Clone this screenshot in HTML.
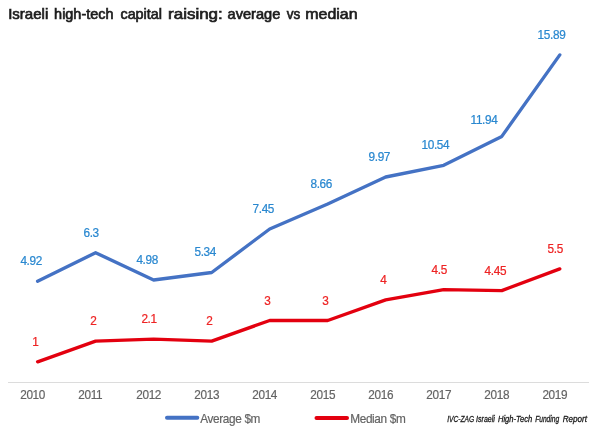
<!DOCTYPE html>
<html><head><meta charset="utf-8"><title>Israeli high-tech capital raising</title>
<style>
html,body{margin:0;padding:0;background:#fff;}
svg{display:block;font-family:"Liberation Sans",sans-serif;}
</style></head><body>
<svg width="600" height="433" viewBox="0 0 600 433">
<rect width="600" height="433" fill="#fff"/>
<text y="19.4" font-size="14.1" fill="#1c1c1c" stroke="#1c1c1c" stroke-width="0.65"><tspan x="8.15" textLength="40.18" lengthAdjust="spacingAndGlyphs">Israeli</tspan> <tspan x="54.1" textLength="59.43" lengthAdjust="spacingAndGlyphs">high-tech</tspan> <tspan x="120.45" textLength="41.57" lengthAdjust="spacingAndGlyphs">capital</tspan> <tspan x="168.1" textLength="54.67" lengthAdjust="spacingAndGlyphs">raising:</tspan> <tspan x="227.6" textLength="52.71" lengthAdjust="spacingAndGlyphs">average</tspan> <tspan x="286.75" textLength="13.5" lengthAdjust="spacingAndGlyphs">vs</tspan> <tspan x="305.25" textLength="52.29" lengthAdjust="spacingAndGlyphs">median</tspan></text>
<line x1="8" y1="382.5" x2="589" y2="382.5" stroke="#dcdcdc" stroke-width="1"/>
<polyline points="37.6,281.2 95.6,252.7 153.6,280.0 211.7,272.5 269.7,229.0 327.7,204.0 385.7,177.0 443.7,165.3 501.8,136.4 559.8,54.9" fill="none" stroke="#4472c4" stroke-width="3.35" stroke-linecap="round" stroke-linejoin="round"/>
<polyline points="37.6,361.8 95.6,341.1 153.6,339.1 211.7,341.1 269.7,320.5 327.7,320.5 385.7,299.9 443.7,289.6 501.8,290.6 559.8,268.9" fill="none" stroke="#e3000f" stroke-width="3.35" stroke-linecap="round" stroke-linejoin="round"/>
<g font-size="12.5" letter-spacing="-0.37" transform="scale(0.944,1)" fill="#2a88d0" stroke="#2a88d0" stroke-width="0.25"><text x="21.6" y="265.2">4.92</text><text x="88.4" y="236.7">6.3</text><text x="144.5" y="264.0">4.98</text><text x="206.0" y="256.5">5.34</text><text x="267.5" y="213.0">7.45</text><text x="328.9" y="188.0">8.66</text><text x="390.4" y="161.0">9.97</text><text x="446.5" y="149.3">10.54</text><text x="498.5" y="124">11.94</text><text x="569.5" y="38.9">15.89</text></g>
<g font-size="12.5" letter-spacing="-0.37" transform="scale(0.944,1)" fill="#ee2424" stroke="#ee2424" stroke-width="0.25"><text x="34.1" y="346.1">1</text><text x="95.6" y="325.4">2</text><text x="149.8" y="323.4">2.1</text><text x="218.5" y="325.4">2</text><text x="280.0" y="304.8">3</text><text x="341.4" y="304.8">3</text><text x="402.9" y="284.2">4</text><text x="457.1" y="273.9">4.5</text><text x="513.3" y="274.9">4.45</text><text x="580.1" y="253.2">5.5</text></g>
<g font-size="12.5" letter-spacing="-0.37" transform="scale(0.944,1)" fill="#646464" stroke="#646464" stroke-width="0.2"><text x="21.4" y="399.5">2010</text><text x="82.9" y="399.5">2011</text><text x="144.3" y="399.5">2012</text><text x="205.8" y="399.5">2013</text><text x="267.2" y="399.5">2014</text><text x="328.7" y="399.5">2015</text><text x="390.2" y="399.5">2016</text><text x="451.6" y="399.5">2017</text><text x="513.1" y="399.5">2018</text><text x="574.6" y="399.5">2019</text></g>
<line x1="167" y1="417.8" x2="197.3" y2="417.8" stroke="#4472c4" stroke-width="4" stroke-linecap="round"/>
<line x1="316.5" y1="417.9" x2="347" y2="417.9" stroke="#e3000f" stroke-width="4" stroke-linecap="round"/>
<g font-size="12.5" letter-spacing="-0.37" transform="scale(0.944,1)" fill="#646464" stroke="#646464" stroke-width="0.2"><text x="212.1" y="423.3">Average $m</text><text x="371.0" y="423.3">Median $m</text></g>
<text y="422.3" font-size="8.6" font-style="italic" fill="#1a1a1a" stroke="#1a1a1a" stroke-width="0.3"><tspan x="447.15" textLength="27.05" lengthAdjust="spacingAndGlyphs">IVC-ZAG</tspan> <tspan x="476.1" textLength="18.8" lengthAdjust="spacingAndGlyphs">Israeli</tspan> <tspan x="497.95" textLength="34.31" lengthAdjust="spacingAndGlyphs">High-Tech</tspan> <tspan x="535.15" textLength="24.0" lengthAdjust="spacingAndGlyphs">Funding</tspan> <tspan x="562.65" textLength="24.36" lengthAdjust="spacingAndGlyphs">Report</tspan></text>
</svg>
</body></html>
